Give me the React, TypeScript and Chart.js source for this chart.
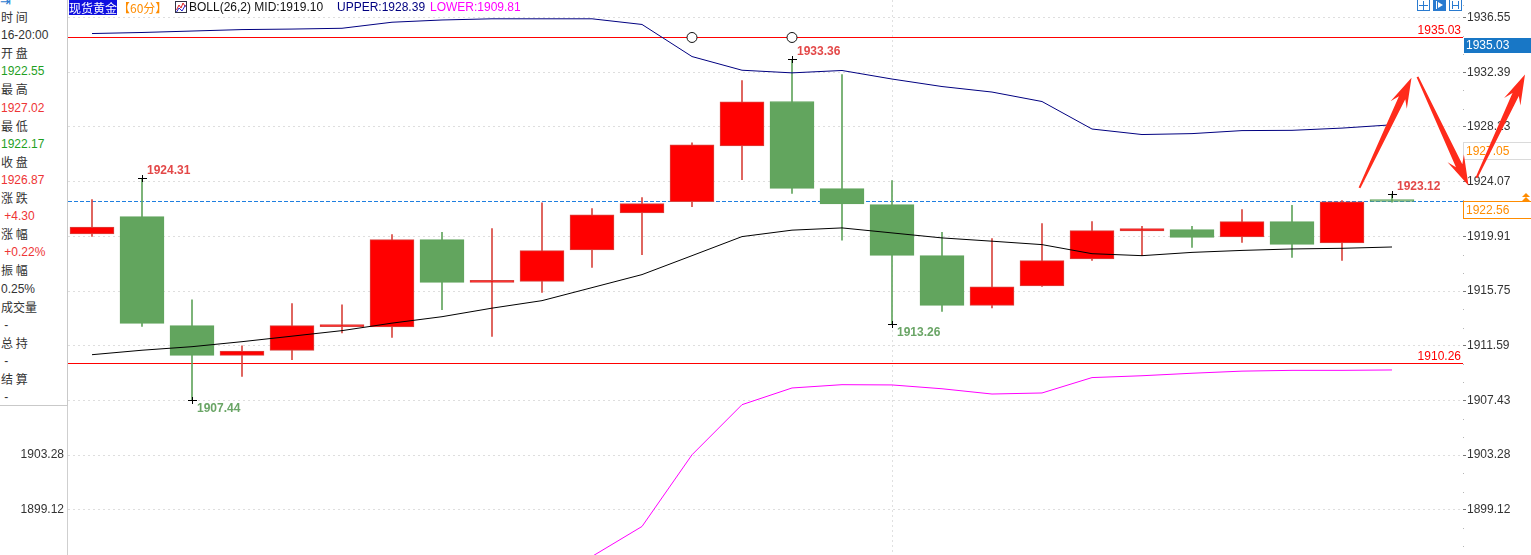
import React, { useEffect, useRef } from "react";
import { Chart, registerables } from "chart.js";

Chart.register(...registerables);

// ---------- data ----------
const candleIndex = [0, 1, 2, 3, 4, 5, 6, 7, 8, 9, 10, 11, 12, 13, 14, 15, 16, 17, 18, 19, 20, 21, 22, 23, 24, 25, 26];
const opens = [1920.09, 1921.41, 1913.12, 1910.86, 1911.24, 1913.05, 1913.02, 1919.66, 1916.41, 1916.49, 1918.88, 1921.69, 1922.55, 1926.79, 1930.16, 1923.54, 1922.32, 1918.44, 1914.66, 1916.14, 1918.19, 1920.32, 1920.42, 1919.86, 1921.03, 1919.41, 1922.6];
const highs = [1922.7, 1924.31, 1915.09, 1911.59, 1914.79, 1914.71, 1920.04, 1920.21, 1920.5, 1922.45, 1922.02, 1922.85, 1927.02, 1931.75, 1933.36, 1932.21, 1924.15, 1920.21, 1919.73, 1920.88, 1921.03, 1920.67, 1920.67, 1921.94, 1922.27, 1922.63, 1923.12];
const lows = [1919.91, 1913.06, 1907.44, 1909.26, 1910.53, 1912.56, 1912.23, 1914.33, 1912.3, 1915.65, 1917.55, 1918.52, 1922.17, 1924.22, 1923.18, 1919.61, 1913.26, 1914.2, 1914.46, 1916.1, 1918.08, 1918.44, 1919.07, 1919.45, 1918.31, 1918.08, 1922.5];
const closes = [1920.62, 1913.29, 1910.86, 1911.19, 1913.12, 1913.12, 1919.66, 1916.41, 1916.44, 1918.82, 1921.54, 1922.4, 1926.87, 1930.13, 1923.56, 1922.37, 1918.46, 1914.66, 1916.08, 1918.06, 1920.34, 1920.5, 1919.83, 1921.03, 1919.3, 1922.53, 1922.56];
const bollMid = [1910.91, 1911.25, 1911.52, 1911.9, 1912.32, 1912.74, 1913.31, 1913.8, 1914.45, 1915.02, 1916.01, 1917.0, 1918.44, 1919.89, 1920.38, 1920.55, 1920.17, 1919.79, 1919.54, 1919.28, 1918.59, 1918.44, 1918.69, 1918.84, 1918.95, 1919.0, 1919.1];
const bollUpper = [1935.33, 1935.41, 1935.52, 1935.63, 1935.67, 1935.73, 1936.19, 1936.36, 1936.45, 1936.45, 1936.45, 1936.02, 1933.58, 1932.54, 1932.34, 1932.52, 1931.87, 1931.3, 1930.88, 1930.16, 1928.07, 1927.65, 1927.72, 1927.95, 1927.97, 1928.14, 1928.39];
const bollLower = [1886.49, 1887.09, 1887.52, 1888.17, 1888.97, 1889.75, 1890.43, 1891.24, 1892.45, 1893.59, 1895.57, 1897.85, 1903.3, 1907.11, 1908.38, 1908.63, 1908.61, 1908.32, 1907.92, 1908.0, 1909.17, 1909.31, 1909.5, 1909.66, 1909.72, 1909.72, 1909.75];
const axisTicks = [1936.55, 1932.39, 1928.23, 1924.07, 1919.91, 1915.75, 1911.59, 1907.43, 1903.28, 1899.12];

const resistanceLevel = 1935.03;
const supportLevel = 1910.26;
const lastPrice = 1922.56;
const markPrice = 1927.05;
const circleIndices = [12, 14];
const daySeparatorIndex = 16;

const extremeIndices = [1, 2, 14, 16, 26];
const extremeValues = [1924.31, 1907.44, 1933.36, 1913.26, 1923.12];
const extremeKinds = ["high", "low", "high", "low", "high"];

// arrow annotations: tail (index, value) -> tip (index, value)
const arrowTailX = [25.35, 26.51, 27.69];
const arrowTailY = [1923.59, 1932.03, 1924.35];
const arrowTipX = [26.39, 27.53, 28.66];
const arrowTipY = [1931.96, 1923.77, 1932.21];

const legendName = "现货黄金";
const legendPeriod = "【60分】";
const legendBoll = "BOLL(26,2) MID:1919.10";
const legendUpper = "UPPER:1928.39";
const legendLower = "LOWER:1909.81";

const panelLabels = ["时 间", "开 盘", "最 高", "最 低", "收 盘", "涨 跌", "涨 幅", "振 幅", "成交量", "总 持", "结 算"];
const panelValues = ["16-20:00", "1922.55", "1927.02", "1922.17", "1926.87", " +4.30", " +0.22%", "0.25%", " -", " -", " -"];

// ---------- styles ----------
const RED = "#ff0000";
const RED_EDGE = "#d8433e";
const GREEN = "#62a55e";
const NUM_FONT = '"Liberation Sans", Arial, sans-serif';
const CJK_FONT = '"Liberation Sans", Arial, "Noto Sans CJK SC", sans-serif';
const X_MIN = -0.48;
const X_MAX = 27.42;
const Y_MIN = 1895.68;
const Y_MAX = 1937.88;
const panelTones = ["#333", "#1f9f1f", "#ee3535", "#1f9f1f", "#ee3535", "#ee3535", "#ee3535", "#333", "#333", "#333", "#333"];

function drawArrow(ctx: CanvasRenderingContext2D, x1: number, y1: number, x2: number, y2: number) {
  const dx = x2 - x1;
  const dy = y2 - y1;
  const len = Math.hypot(dx, dy);
  const ux = dx / len;
  const uy = dy / len;
  const nx = -uy;
  const ny = ux;
  const headLen = 30;
  const headHalf = 9;
  const joint = 22;
  const sh = 3.5;
  const st = 1.0;
  const bx = x2 - ux * headLen;
  const by = y2 - uy * headLen;
  const jx = x2 - ux * joint;
  const jy = y2 - uy * joint;
  ctx.beginPath();
  ctx.moveTo(x1 + nx * st, y1 + ny * st);
  ctx.lineTo(jx + nx * sh, jy + ny * sh);
  ctx.lineTo(bx + nx * headHalf, by + ny * headHalf);
  ctx.lineTo(x2, y2);
  ctx.lineTo(bx - nx * headHalf, by - ny * headHalf);
  ctx.lineTo(jx - nx * sh, jy - ny * sh);
  ctx.lineTo(x1 - nx * st, y1 - ny * st);
  ctx.closePath();
  ctx.fill();
}

const overlayPlugin = {
  id: "overlay",
  beforeDatasetsDraw(chart: any) {
    const { ctx, chartArea: a, scales } = chart;
    const xs = scales.x;
    const ys = scales.y;
    const L = Math.round(a.left);
    const R = Math.round(a.right);
    ctx.save();
    // day separator (dotted)
    ctx.fillStyle = "#e0e0e0";
    const sx = Math.round(xs.getPixelForValue(daySeparatorIndex));
    for (let y = Math.round(a.top); y < a.bottom; y += 5) ctx.fillRect(sx, y, 1, 2);
    // left axis line
    ctx.fillStyle = "#cfcfcf";
    ctx.fillRect(L - 1, Math.round(a.top), 1, Math.round(a.bottom - a.top));
    // support / resistance
    ctx.fillStyle = RED;
    [resistanceLevel, supportLevel].forEach((v) => {
      const y = Math.round(ys.getPixelForValue(v));
      ctx.fillRect(L, y, R - L, 1);
    });
    // last price dashed
    ctx.fillStyle = "#1f7fe0";
    const ly = Math.round(ys.getPixelForValue(lastPrice));
    for (let x = L; x < R; x += 6) ctx.fillRect(x, ly, Math.min(4, R - x), 1);
    ctx.restore();
  },
  afterDatasetsDraw(chart: any) {
    const { ctx, chartArea: a, scales } = chart;
    const xs = scales.x;
    const ys = scales.y;
    ctx.save();
    // level labels
    ctx.font = `12px ${NUM_FONT}`;
    ctx.fillStyle = RED;
    ctx.textAlign = "right";
    ctx.textBaseline = "alphabetic";
    [resistanceLevel, supportLevel].forEach((v) => {
      const y = ys.getPixelForValue(v);
      ctx.fillText(v.toFixed(2), a.right - 2, y - 3);
    });
    // circles
    ctx.lineWidth = 1;
    circleIndices.forEach((i) => {
      const cx = xs.getPixelForValue(i);
      const cy = ys.getPixelForValue(resistanceLevel);
      ctx.beginPath();
      ctx.ellipse(cx, cy, 5, 5, 0, 0, Math.PI * 2);
      ctx.fillStyle = "#fff";
      ctx.fill();
      ctx.strokeStyle = "#111";
      ctx.stroke();
    });
    // extremes
    extremeIndices.forEach((idx, k) => {
      const cx = Math.round(xs.getPixelForValue(idx));
      const cy = Math.round(ys.getPixelForValue(extremeValues[k]));
      ctx.fillStyle = "#000";
      ctx.fillRect(cx - 4, cy, 9, 1);
      ctx.fillRect(cx, cy - 3, 1, 7);
      ctx.font = `bold 12px ${NUM_FONT}`;
      ctx.textAlign = "left";
      const isHigh = extremeKinds[k] === "high";
      ctx.fillStyle = isHigh ? "#e34848" : "#6aa566";
      ctx.fillText(extremeValues[k].toFixed(2), cx + 5, isHigh ? cy - 4 : cy + 12);
    });
    ctx.restore();
  },
  afterDraw(chart: any) {
    const { ctx, chartArea: a, scales } = chart;
    const xs = scales.x;
    const ys = scales.y;
    const W = chart.width;
    ctx.save();
    // minor ticks on right axis
    ctx.fillStyle = "#b5b5b5";
    for (let k = 0; k < axisTicks.length - 1; k++) {
      const y0 = ys.getPixelForValue(axisTicks[k]);
      const y1 = ys.getPixelForValue(axisTicks[k + 1]);
      [1 / 3, 2 / 3].forEach((f) => {
        ctx.fillRect(a.right, Math.round(y0 + (y1 - y0) * f), 1, 1);
      });
    }
    const yb = ys.getPixelForValue(axisTicks[axisTicks.length - 1]);
    ctx.fillRect(a.right, Math.round(yb + 18), 1, 1);
    ctx.fillRect(a.right, Math.round(yb + 36), 1, 1);
    const yt = ys.getPixelForValue(axisTicks[0]);
    ctx.fillRect(a.right, Math.round(yt - 12), 1, 1);

    ctx.font = `12px ${NUM_FONT}`;
    ctx.textAlign = "left";
    ctx.textBaseline = "middle";
    // resistance box (blue)
    const ry = Math.round(ys.getPixelForValue(resistanceLevel));
    ctx.fillStyle = "#1877c6";
    ctx.fillRect(a.right + 1, ry + 1, W - a.right - 1, 15);
    ctx.fillStyle = "#fff";
    ctx.fillText(resistanceLevel.toFixed(2), a.right + 3, ry + 9);
    // mark price box (grey border)
    const my = Math.round(ys.getPixelForValue(markPrice));
    ctx.fillStyle = "#fff";
    ctx.fillRect(a.right, my, W - a.right, 18);
    ctx.strokeStyle = "#dadada";
    ctx.lineWidth = 1;
    ctx.strokeRect(a.right + 0.5, my + 0.5, W - a.right, 17);
    ctx.fillStyle = "#ff8c00";
    ctx.fillText(markPrice.toFixed(2), a.right + 3, my + 9.5);
    // last price box (orange border)
    const py = Math.round(ys.getPixelForValue(lastPrice));
    ctx.fillStyle = "#fff";
    ctx.fillRect(a.right, py, W - a.right, 18);
    ctx.strokeStyle = "#ff8c00";
    ctx.strokeRect(a.right + 0.5, py + 0.5, W - a.right, 17);
    ctx.fillStyle = "#ff8c00";
    ctx.fillText(lastPrice.toFixed(2), a.right + 3, py + 9.5);
    // chevrons
    ctx.fillStyle = "#ff8c00";
    [py - 7, py - 3].forEach((cy) => {
      ctx.beginPath();
      ctx.moveTo(W - 5, cy - 1);
      ctx.lineTo(W - 9, cy + 3);
      ctx.lineTo(W - 1, cy + 3);
      ctx.closePath();
      ctx.fill();
    });
    // top-right icons
    ctx.strokeStyle = "#2a7bd0";
    ctx.fillStyle = "#2a7bd0";
    const ix = [1417, 1433, 1449];
    ix.forEach((x, k) => {
      ctx.strokeRect(x + 0.5, -0.5, 12, 11);
      if (k === 0) {
        ctx.fillRect(x + 6, 1, 1, 9);
        ctx.fillRect(x + 2, 5, 9, 1);
      } else if (k === 1) {
        ctx.fillRect(x + 1, 0, 12, 11);
        ctx.fillStyle = "#fff";
        ctx.fillRect(x + 3, 1, 1, 8);
        ctx.beginPath();
        ctx.moveTo(x + 5, 2);
        ctx.lineTo(x + 10, 5);
        ctx.lineTo(x + 5, 8);
        ctx.closePath();
        ctx.fill();
        ctx.fillStyle = "#2a7bd0";
      } else {
        ctx.fillRect(x + 3, 1, 1, 8);
        ctx.fillRect(x + 9, 1, 1, 8);
        ctx.fillRect(x + 3, 5, 7, 1);
      }
    });
    // arrows
    ctx.fillStyle = "#ff2b1b";
    arrowTailX.forEach((tx, k) => {
      drawArrow(
        ctx,
        xs.getPixelForValue(tx),
        ys.getPixelForValue(arrowTailY[k]),
        xs.getPixelForValue(arrowTipX[k]),
        ys.getPixelForValue(arrowTipY[k])
      );
    });
    ctx.restore();
  },
};

function fitAxis(s: any) {
  s.width = 68;
  s.paddingTop = 0;
  s.paddingBottom = 0;
}

function ChartCanvas() {
  const ref = useRef<HTMLCanvasElement | null>(null);
  useEffect(() => {
    if (!ref.current) return;
    const isUp = candleIndex.map((i) => closes[i] >= opens[i]);
    const bodyFill = isUp.map((u) => (u ? RED : GREEN));
    const bodyEdge = isUp.map((u) => (u ? RED_EDGE : GREEN));
    const wickColor = isUp.map((u) => (u ? "#d9473f" : GREEN));
    const tickCfg = {
      callback: (v: any) => Number(v).toFixed(2),
      font: { size: 12, family: NUM_FONT },
      color: "#333",
      autoSkip: false,
    };
    const chart = new Chart(ref.current, {
      type: "bar",
      data: {
        datasets: [
          {
            type: "line",
            label: "UPPER",
            data: candleIndex.map((i) => ({ x: i, y: bollUpper[i] })),
            borderColor: "#000080",
            borderWidth: 1,
            pointRadius: 0,
            tension: 0,
            order: 0,
          } as any,
          {
            type: "line",
            label: "MID",
            data: candleIndex.map((i) => ({ x: i, y: bollMid[i] })),
            borderColor: "#000000",
            borderWidth: 1,
            pointRadius: 0,
            tension: 0,
            order: 0,
          },
          {
            type: "line",
            label: "LOWER",
            data: candleIndex.map((i) => ({ x: i, y: bollLower[i] })),
            borderColor: "#ff00ff",
            borderWidth: 1,
            pointRadius: 0,
            tension: 0,
            order: 0,
          },
          {
            type: "bar",
            label: "body",
            data: candleIndex.map((i) => ({ x: i, y: [opens[i], closes[i]] })),
            backgroundColor: bodyFill,
            borderColor: bodyEdge,
            borderWidth: 1,
            borderSkipped: false,
            barThickness: 44,
            minBarLength: 2,
            grouped: false,
            order: 1,
          },
          {
            type: "bar",
            label: "wick",
            data: candleIndex.map((i) => ({ x: i, y: [lows[i], highs[i]] })),
            backgroundColor: wickColor,
            borderWidth: 0,
            barThickness: 1,
            grouped: false,
            order: 2,
          },
        ] as any,
      },
      options: {
        animation: false,
        responsive: true,
        maintainAspectRatio: false,
        events: [],
        layout: { padding: 0 },
        plugins: { legend: { display: false }, tooltip: { enabled: false } },
        scales: {
          x: {
            type: "linear",
            min: X_MIN,
            max: X_MAX,
            offset: false,
            display: false,
          },
          y: {
            type: "linear",
            position: "right",
            min: Y_MIN,
            max: Y_MAX,
            afterBuildTicks: (s: any) => {
              s.ticks = axisTicks.map((v) => ({ value: v }));
            },
            afterFit: fitAxis,
            ticks: { ...tickCfg, padding: 1 },
            grid: {
              color: "#dedede",
              lineWidth: 1,
              drawOnChartArea: true,
              drawTicks: true,
              tickLength: 3,
              tickColor: "#777",
              tickBorderDash: [],
            },
            border: { display: false, dash: [2, 3] },
          },
          yLeft: {
            type: "linear",
            position: "left",
            min: Y_MIN,
            max: Y_MAX,
            afterBuildTicks: (s: any) => {
              s.ticks = axisTicks.map((v) => ({ value: v }));
            },
            afterFit: fitAxis,
            ticks: { ...tickCfg, padding: 4 },
            grid: { display: false, drawTicks: false },
            border: { display: false },
          },
        } as any,
      },
      plugins: [overlayPlugin],
    });
    return () => chart.destroy();
  }, []);
  return <canvas ref={ref} />;
}

export default function App() {
  const rowH = 18.1;
  return (
    <div style={{ position: "absolute", left: 0, top: 0, width: 1531, height: 555, background: "#fff", overflow: "hidden" }}>
      <div style={{ position: "absolute", left: 0, top: 0, width: 1531, height: 555 }}>
        <ChartCanvas />
      </div>
      {/* legend */}
      <div style={{ position: "absolute", left: 0, top: 0, height: 15, font: `12px ${CJK_FONT}`, lineHeight: "15px", whiteSpace: "nowrap" }}>
        <span style={{ position: "absolute", left: 69, top: 0, background: "#1010e0", color: "#fff", fontFamily: '"Noto Sans CJK SC", sans-serif', height: 15 }}>{legendName}</span>
        <span style={{ position: "absolute", left: 118, top: 0, color: "#ff8c00", fontFamily: '"Noto Sans CJK SC", sans-serif' }}>{legendPeriod}</span>
        <svg style={{ position: "absolute", left: 175, top: 1 }} width="12" height="12" viewBox="0 0 12 12">
          <rect x="0.5" y="0.5" width="11" height="11" fill="#fff" stroke="#334" />
          <polyline points="1.5,9 4,4 6,7 8,2 10.5,6" fill="none" stroke="#d22" strokeWidth="1" />
          <polyline points="1.5,11 4,7 7,10 10.5,4" fill="none" stroke="#22c" strokeWidth="1" />
        </svg>
        <span style={{ position: "absolute", left: 189, top: 0, color: "#111" }}>{legendBoll}</span>
        <span style={{ position: "absolute", left: 337, top: 0, color: "#000080" }}>{legendUpper}</span>
        <span style={{ position: "absolute", left: 430, top: 0, color: "#ff00ff" }}>{legendLower}</span>
      </div>
      {/* info panel */}
      <div
        style={{
          position: "absolute",
          left: 0,
          top: 0,
          width: 67,
          height: 405,
          background: "#fff",
          borderRight: "1px solid #c9c9c9",
          borderBottom: "1px solid #c9c9c9",
          font: `12px ${CJK_FONT}`,
          color: "#333",
        }}
      >
        <div style={{ position: "absolute", left: 0, top: -5, color: "#2a7bd0", fontSize: 13, fontFamily: '"DejaVu Sans", sans-serif', lineHeight: "14px" }}>⇥</div>
        {panelLabels.map((lab, k) => (
          <React.Fragment key={k}>
            <div style={{ position: "absolute", left: 1, top: 8 + rowH * 2 * k, lineHeight: `${rowH}px`, whiteSpace: "pre", fontFamily: '"Noto Sans CJK SC", sans-serif' }}>{lab}</div>
            <div style={{ position: "absolute", left: 1, top: 8 + rowH * (2 * k + 1), lineHeight: `${rowH}px`, whiteSpace: "pre", color: panelTones[k] }}>{panelValues[k]}</div>
          </React.Fragment>
        ))}
      </div>
    </div>
  );
}
